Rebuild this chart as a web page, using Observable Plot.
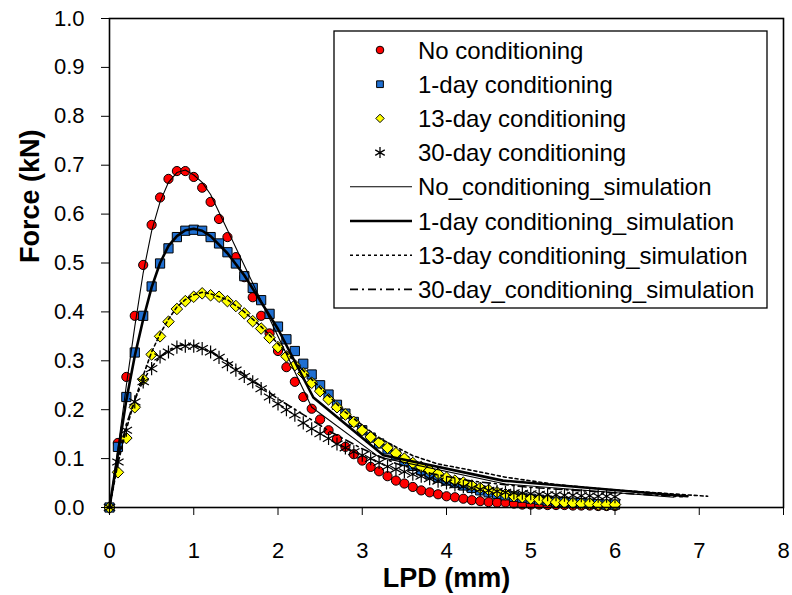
<!DOCTYPE html>
<html>
<head>
<meta charset="utf-8">
<script src="https://cdn.jsdelivr.net/npm/d3@7"></script>
<script src="https://cdn.jsdelivr.net/npm/@observablehq/plot@0.6"></script>
<style>
  body { margin: 0; background: #fff; }
  #chart { width: 792px; height: 595px; }
</style>
</head>
<body>
<div id="chart"></div>
<script>
// ---- Data ----
const lpd = [0,0.1,0.2,0.3,0.4,0.5,0.6,0.7,0.8,0.9,1.0,1.1,1.2,1.3,1.4,1.5,1.6,1.7,1.8,1.9,2.0,
  2.1,2.2,2.3,2.4,2.5,2.6,2.7,2.8,2.9,3.0,3.1,3.2,3.3,3.4,3.5,3.6,3.7,3.8,3.9,4.0,
  4.1,4.2,4.3,4.4,4.5,4.6,4.7,4.8,4.9,5.0,5.1,5.2,5.3,5.4,5.5,5.6,5.7,5.8,5.9,6.0];

const noConditioning = [0,0.132,0.267,0.392,0.496,0.578,0.634,0.672,0.688,0.688,0.676,
  0.654,0.625,0.590,0.553,0.512,0.471,0.430,0.392,0.356,0.320,
  0.287,0.257,0.226,0.202,0.180,0.158,0.140,0.124,0.109,0.096,
  0.083,0.074,0.064,0.055,0.049,0.042,0.035,0.031,0.027,0.023,
  0.021,0.018,0.015,0.013,0.011,0.010,0.010,0.008,0.006,0.006,
  0.006,0.005,0.005,0.005,0.004,0.004,0.004,0.003,0.003,0.003];

const day1Conditioning = [0,0.124,0.226,0.317,0.392,0.452,0.499,0.530,0.553,0.566,0.568,
  0.566,0.553,0.540,0.522,0.499,0.473,0.449,0.424,0.396,0.370,
  0.344,0.320,0.294,0.272,0.250,0.231,0.210,0.192,0.175,0.158,
  0.143,0.131,0.119,0.107,0.095,0.085,0.076,0.068,0.061,0.055,
  0.050,0.045,0.040,0.035,0.031,0.028,0.025,0.022,0.020,0.018,
  0.016,0.014,0.012,0.011,0.010,0.009,0.008,0.007,0.006,0.006];

const day13Conditioning = [0,0.072,0.142,0.205,0.262,0.313,0.350,0.380,0.406,0.422,0.431,
  0.438,0.434,0.431,0.422,0.412,0.397,0.381,0.366,0.347,0.328,
  0.309,0.291,0.274,0.255,0.238,0.221,0.205,0.190,0.175,0.158,
  0.144,0.133,0.122,0.111,0.100,0.091,0.083,0.076,0.069,0.061,
  0.055,0.051,0.045,0.040,0.036,0.031,0.027,0.023,0.021,0.018,
  0.016,0.014,0.011,0.010,0.009,0.008,0.008,0.006,0.006,0.006];

const day30Conditioning = [0,0.093,0.158,0.216,0.257,0.284,0.308,0.318,0.328,0.330,0.330,
  0.325,0.318,0.307,0.292,0.281,0.268,0.257,0.243,0.226,0.212,
  0.200,0.189,0.173,0.161,0.151,0.141,0.130,0.122,0.114,0.107,
  0.100,0.092,0.084,0.078,0.073,0.068,0.064,0.059,0.054,0.050,
  0.046,0.043,0.040,0.037,0.035,0.033,0.031,0.030,0.029,0.028,
  0.027,0.026,0.026,0.025,0.025,0.024,0.024,0.023,0.023,0.022];

// simulation curves
const simNoX = [0,0.1,0.2,0.3,0.4,0.5,0.6,0.7,0.8,0.9,1.0,1.1,1.2,2.4,3.2,4.7,6.7];
const simNoY = [0,0.12,0.25,0.37,0.48,0.565,0.625,0.665,0.685,0.69,0.68,0.665,0.64,0.205,0.103,0.048,0.021];

const sim1X = [0,0.1,0.2,0.3,0.4,0.5,0.6,0.7,0.8,0.9,1.0,1.1,1.2,1.4,1.6,2.0,2.42,3.25,4.67,6.86];
const sim1Y = [0,0.11,0.22,0.31,0.385,0.45,0.5,0.535,0.555,0.567,0.57,0.566,0.555,0.52,0.475,0.365,0.225,0.107,0.055,0.023];

const sim13X = [0,0.1,0.2,0.3,0.4,0.5,0.6,0.7,0.8,0.9,1.0,1.1,1.2,1.4,1.6,1.8,2.0,2.4,2.8,3.2,3.6,3.9,4.3,4.7,5.3,5.9,6.5,7.1];
const sim13Y = [0,0.09,0.16,0.22,0.27,0.318,0.355,0.385,0.41,0.425,0.435,0.44,0.437,0.425,0.40,0.37,0.335,0.262,0.195,0.142,0.106,0.089,0.076,0.062,0.047,0.037,0.030,0.023];

const sim30X = [0,0.1,0.2,0.3,0.4,0.5,0.6,0.7,0.8,0.9,1.0,1.2,1.4,1.6,1.8,2.0,2.3,2.6,3.0,3.4,3.8,4.3,5.0,6.0,6.8];
const sim30Y = [0,0.1,0.17,0.22,0.26,0.287,0.308,0.322,0.33,0.333,0.332,0.32,0.298,0.272,0.248,0.222,0.19,0.157,0.12,0.09,0.07,0.054,0.041,0.03,0.022];

const xTicks = [0,1,2,3,4,5,6,7,8];
const yTicks = [0,0.1,0.2,0.3,0.4,0.5,0.6,0.7,0.8,0.9,1.0];

const legendLabels = [
  "No conditioning", "1-day conditioning", "13-day conditioning", "30-day conditioning",
  "No_conditioning_simulation", "1-day conditioning_simulation",
  "13-day conditioning_simulation", "30-day_conditioning_simulation"
];
const xLabel = "LPD (mm)";
const yLabel = "Force (kN)";

// ---- Build tables ----
const toPts = (xs, ys) => xs.map((x, i) => ({x, y: ys[i]}));
const ptsNo = toPts(lpd, noConditioning);
const pts1 = toPts(lpd, day1Conditioning);
const pts13 = toPts(lpd, day13Conditioning);
const pts30 = toPts(lpd, day30Conditioning);
const lnNo = toPts(simNoX, simNoY);
const ln1 = toPts(sim1X, sim1Y);
const ln13 = toPts(sim13X, sim13Y);
const ln30 = toPts(sim30X, sim30Y);

const FONT = "'Liberation Sans', Arial, Helvetica, sans-serif";

const styles = {
  markers: [
    {symbol: "circle", fill: "#ff0000", stroke: "#000", r: 4.6, lr: 3.8},
    {symbol: "square", fill: "#1f6fd1", stroke: "#000", r: 5.2, lr: 3.8},
    {symbol: "diamond2", fill: "#ffff00", stroke: "#000", r: 5.2, lr: 3.8},
    {symbol: "asterisk", fill: "none", stroke: "#000", r: 6.2, lr: 5.2}
  ],
  lines: [
    {strokeWidth: 1.1, dash: null},
    {strokeWidth: 2.6, dash: null},
    {strokeWidth: 1.6, dash: "3,3"},
    {strokeWidth: 1.6, dash: "8,4,2,4"}
  ]
};

const ptSets = [ptsNo, pts1, pts13, pts30];
const lnSets = [lnNo, ln1, ln13, ln30];

const marks = [];
ptSets.forEach((d, i) => {
  const s = styles.markers[i];
  marks.push(Plot.dot(d, {x: "x", y: "y", symbol: () => s.symbol, r: s.r, fill: s.fill, stroke: s.stroke, strokeWidth: i === 3 ? 1.2 : 1}));
});
lnSets.forEach((d, i) => {
  const s = styles.lines[i];
  marks.push(Plot.line(d, {x: "x", y: "y", stroke: "#000", strokeWidth: s.strokeWidth, strokeDasharray: s.dash}));
});

marks.push(Plot.frame({stroke: "#000", strokeWidth: 1.6}));
marks.push(Plot.axisX({ticks: xTicks, tickSize: 8, tickPadding: 27, tickFormat: d => String(d), label: null, fontSize: 22}));
marks.push(Plot.axisY({ticks: yTicks, tickSize: 8, tickPadding: 17, tickFormat: d => d.toFixed(1), label: null, fontSize: 22}));
marks.push(Plot.text([xLabel], {text: d => d, frameAnchor: "bottom", lineAnchor: "middle", dy: 71, fontWeight: "bold", fontSize: 27}));
marks.push(Plot.text([yLabel], {text: d => d, frameAnchor: "left", lineAnchor: "middle", dx: -79, rotate: -90, fontWeight: "bold", fontSize: 27}));

const chart = Plot.plot({
  width: 792,
  height: 595,
  marginLeft: 109,
  marginRight: 9,
  marginTop: 18,
  marginBottom: 88,
  style: {fontFamily: FONT, fontSize: "22px", color: "#000", background: "#fff"},
  x: {domain: [0, 8]},
  y: {domain: [0, 1]},
  symbol: {type: "identity"},
  marks
});

document.getElementById("chart").appendChild(chart);

// ---- Legend (inside plot area, top-right) ----
const svg = d3.select(chart);
const lg = svg.append("g").attr("font-family", FONT).attr("text-anchor", "start");
const bx = 334, by = 31, bw = 433, bh = 277, rowH = 34.2, row0 = 50;
lg.append("rect").attr("x", bx).attr("y", by).attr("width", bw).attr("height", bh)
  .attr("fill", "#fff").attr("stroke", "#000").attr("stroke-width", 1.3);
const symMap = {circle: d3.symbolCircle, square: d3.symbolSquare, diamond2: d3.symbolDiamond2, asterisk: d3.symbolAsterisk};
legendLabels.forEach((lab, i) => {
  const cy = row0 + i * rowH;
  if (i < 4) {
    const s = styles.markers[i];
    const rr = s.lr;
    lg.append("path")
      .attr("d", d3.symbol(symMap[s.symbol], Math.PI * rr * rr)())
      .attr("transform", `translate(380,${cy})`)
      .attr("fill", s.fill).attr("stroke", "#000").attr("stroke-width", i === 3 ? 1.3 : 1);
  } else {
    const s = styles.lines[i - 4];
    lg.append("line").attr("x1", 350).attr("x2", 412).attr("y1", cy).attr("y2", cy)
      .attr("stroke", "#000").attr("stroke-width", s.strokeWidth)
      .attr("stroke-dasharray", s.dash);
  }
  lg.append("text").attr("x", 418).attr("y", cy).attr("dy", "0.36em")
    .attr("text-anchor", "start")
    .attr("font-size", 24).attr("fill", "#000").text(lab);
});
</script>
</body>
</html>
